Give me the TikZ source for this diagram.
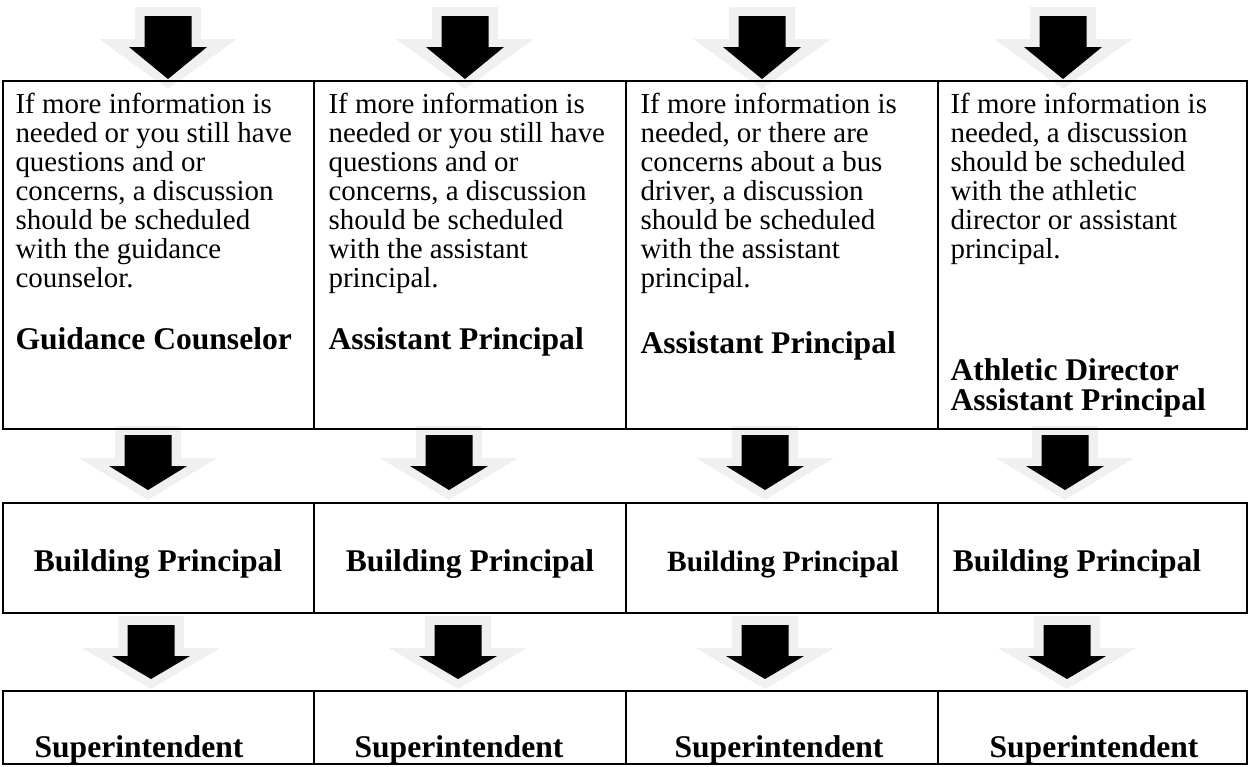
\documentclass[tikz,border=0pt]{standalone}
\usepackage{fontspec}
\setmainfont{Liberation Serif}
\definecolor{glowgray}{gray}{0.94}
\tikzset{
  gridline/.style={line width=1.1pt},
  cellbody/.style={anchor=base west, inner sep=0pt, align=left, font=\fontsize{11}{11}\selectfont},
  cellhead/.style={inner sep=0pt, font=\fontsize{12}{11.4}\selectfont\bfseries}
}
% block arrow: centre x, top of black shaft, black tip
\def\blockarrow(#1,#2,#3){%
  \fill[glowgray] (#1-33,#2-9) -- (#1+33,#2-9) -- (#1+33,#2+23) -- (#1+69,#2+23)
    -- (#1,#3+10) -- (#1-69,#2+23) -- (#1-33,#2+23) -- cycle;
  \fill[black] (#1-23.5,#2) -- (#1+23.5,#2) -- (#1+23.5,#2+31) -- (#1+39,#2+31)
    -- (#1,#3) -- (#1-39,#2+31) -- (#1-23.5,#2+31) -- cycle;}

\begin{document}
\begin{tikzpicture}[x=0.38pt, y=-0.38pt]
			%%%%% START %%%%%
			\useasboundingbox (0, 0) rectangle (1250, 766);
			
			% arrows above the first row
			\blockarrow(168,16,79)
			\blockarrow(465,16,79)
			\blockarrow(762,16,79)
			\blockarrow(1063,16,79)
			
			% arrows between first and second row
			\blockarrow(148,435,490)
			\blockarrow(449,435,490)
			\blockarrow(765,435,490)
			\blockarrow(1065,435,490)
			
			% arrows between second and third row
			\blockarrow(151,625,679)
			\blockarrow(458,625,679)
			\blockarrow(765,625,679)
			\blockarrow(1067,625,679)
			
			% first row (base anchor sits on the last line)
			\draw[gridline] (3, 81) rectangle (1247, 429);
			\draw[gridline] (314, 81) -- (314, 429);
			\draw[gridline] (626, 81) -- (626, 429);
			\draw[gridline] (938, 81) -- (938, 429);
			
			\node[cellbody] (info-guid) at (15, 287) {If more information is\\needed or you still have\\questions and or\\concerns, a discussion\\should be scheduled\\with the guidance\\counselor.};
			\node[cellbody] (info-asst) at (328, 287) {If more information is\\needed or you still have\\questions and or\\concerns, a discussion\\should be scheduled\\with the assistant\\principal.};
			\node[cellbody] (info-bus) at (640, 287) {If more information is\\needed, or there are\\concerns about a bus\\driver, a discussion\\should be scheduled\\with the assistant\\principal.};
			\node[cellbody] (info-ath) at (950, 258) {If more information is\\needed, a discussion\\should be scheduled\\with the athletic\\director or assistant\\principal.};
			
			\node[cellhead, anchor=base west] (who-guid) at (15, 349) {Guidance Counselor};
			\node[cellhead, anchor=base west] (who-asst) at (328, 349) {Assistant Principal};
			\node[cellhead, anchor=base west] (who-bus) at (640, 353) {Assistant Principal};
			\node[cellhead, anchor=base west, align=left] (who-ath) at (950, 410) {Athletic Director\\Assistant Principal};
			
			% second row
			\draw[gridline] (3, 503) rectangle (1247, 613);
			\draw[gridline] (314, 503) -- (314, 613);
			\draw[gridline] (626, 503) -- (626, 613);
			\draw[gridline] (938, 503) -- (938, 613);
			
			\node[cellhead, anchor=base] (bp-guid) at (158, 571) {Building Principal};
			\node[cellhead, anchor=base] (bp-asst) at (470, 571) {Building Principal};
			\node[cellhead, anchor=base, font=\fontsize{11.2}{11.4}\selectfont\bfseries] (bp-bus) at (783, 571) {Building Principal};
			\node[cellhead, anchor=base] (bp-ath) at (1077, 571) {Building Principal};
			
			% third row
			\draw[gridline] (3, 691) rectangle (1247, 764);
			\draw[gridline] (314, 691) -- (314, 764);
			\draw[gridline] (626, 691) -- (626, 764);
			\draw[gridline] (938, 691) -- (938, 764);
			
			\node[cellhead, anchor=base] (sup-guid) at (139, 757) {Superintendent};
			\node[cellhead, anchor=base] (sup-asst) at (459, 757) {Superintendent};
			\node[cellhead, anchor=base] (sup-bus) at (779, 757) {Superintendent};
			\node[cellhead, anchor=base] (sup-ath) at (1094, 757) {Superintendent};
			%%%%% END %%%%%
\end{tikzpicture}
\end{document}
